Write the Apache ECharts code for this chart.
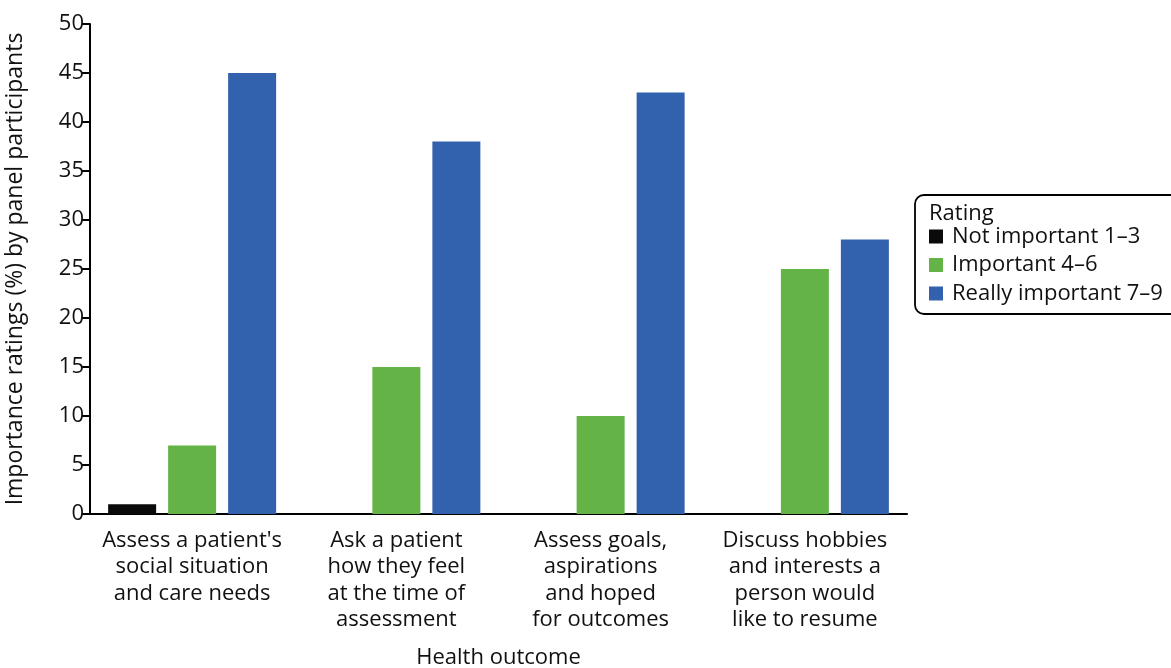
<!DOCTYPE html>
<html>
<head>
<meta charset="utf-8">
<script src="https://cdn.jsdelivr.net/npm/echarts@6/dist/echarts.min.js"></script>
<style>
html,body{margin:0;padding:0;background:#fff;}
#chart{width:1171px;height:668px;}
</style>
</head>
<body>
<div id="chart"></div>
<script>
const categories = [
  "Assess a patient's\nsocial situation\nand care needs",
  "Ask a patient\nhow they feel\nat the time of\nassessment",
  "Assess goals,\naspirations\nand hoped\nfor outcomes",
  "Discuss hobbies\nand interests a\nperson would\nlike to resume"
];
const seriesNames = ["Not important 1\u20133", "Important 4\u20136", "Really important 7\u20139"];
const notImportant = [1, 0, 0, 0];
const important = [7, 15, 10, 25];
const reallyImportant = [45, 38, 43, 28];
const colors = ["#0a0a0a", "#63b347", "#3262ae"];

const FONT = "Open Sans";
const FS = 22;
const TXT = "#111";
const chart = echarts.init(document.getElementById('chart'), null, {renderer: 'canvas'});
const mkSeries = (name, data, color) => ({
  name: name, type: 'bar', data: data, barWidth: 48, barGap: '25%',
  itemStyle: {color: color}, emphasis: {disabled: true}
});
chart.setOption({
  animation: false,
  textStyle: {fontFamily: FONT},
  grid: {left: 90, right: 264, top: 24, bottom: 154, containLabel: false, outerBoundsMode: 'none'},
  legend: {
    orient: 'vertical', left: 915, top: 195,
    data: seriesNames,
    borderColor: '#000', borderWidth: 1.8, borderRadius: 9,
    padding: [30, 20, 9, 14],
    itemWidth: 14, itemHeight: 14, itemGap: 5.5,
    icon: 'rect',
    textStyle: {fontFamily: FONT, fontSize: FS, color: TXT, lineHeight: 23, padding: [0, 0, 0, 4]},
    selectedMode: false
  },
  graphic: [{
    type: 'text', left: 929, top: 203,
    style: {text: 'Rating', font: FS + 'px "Open Sans"', fill: TXT}
  }],
  xAxis: {
    type: 'category', data: categories,
    name: 'Health outcome', nameLocation: 'middle', nameGap: 133,
    nameTextStyle: {fontFamily: FONT, fontSize: FS, color: TXT},
    axisLine: {lineStyle: {color: '#000', width: 2}},
    axisTick: {show: false},
    axisLabel: {fontFamily: FONT, fontSize: FS, color: TXT, lineHeight: 26.5, margin: 13, interval: 0}
  },
  yAxis: {
    type: 'value', min: 0, max: 50, interval: 5,
    name: 'Importance ratings (%) by panel participants', nameLocation: 'middle', nameGap: 63,
    nameTextStyle: {fontFamily: FONT, fontSize: 23, color: TXT},
    axisLine: {show: true, lineStyle: {color: '#000', width: 2}},
    axisTick: {show: true, length: 8, lineStyle: {color: '#000', width: 2}},
    axisLabel: {fontFamily: FONT, fontSize: FS, color: TXT, margin: 6},
    splitLine: {show: false}
  },
  series: [
    mkSeries(seriesNames[0], notImportant, colors[0]),
    mkSeries(seriesNames[1], important, colors[1]),
    mkSeries(seriesNames[2], reallyImportant, colors[2])
  ]
});
</script>
</body>
</html>
